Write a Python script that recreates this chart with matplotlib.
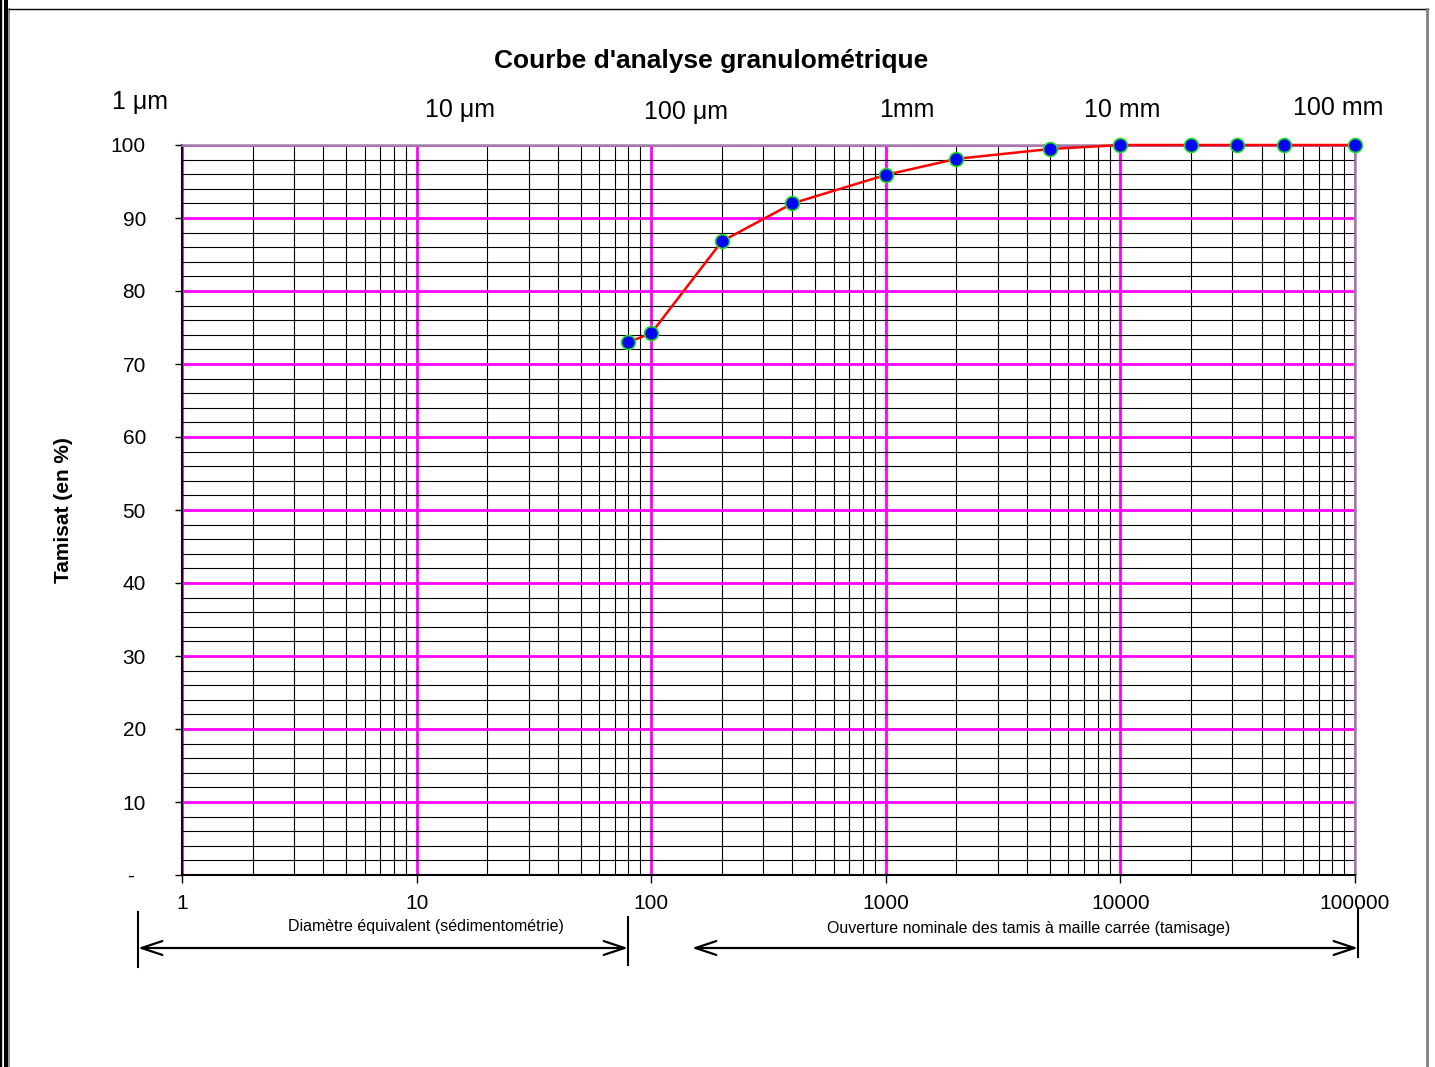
import matplotlib
matplotlib.use('Agg')
import matplotlib.pyplot as plt
from matplotlib.lines import Line2D
from matplotlib.patches import FancyArrowPatch
from matplotlib.ticker import LogLocator, MultipleLocator, NullFormatter

plt.rcParams['font.family'] = ['Liberation Sans', 'DejaVu Sans']

# donnees de la courbe granulometrique
tailles = [80, 100, 200, 400, 1000, 2000, 5000, 10000, 20000, 31500, 50000, 100000]
tamisat = [73.0, 74.2, 86.8, 92.0, 95.9, 98.1, 99.45, 100, 100, 100, 100, 100]

x_ticks = [1, 10, 100, 1000, 10000, 100000]
x_labels = ['1', '10', '100', '1000', '10000', '100000']
y_ticks = [0, 10, 20, 30, 40, 50, 60, 70, 80, 90, 100]
y_labels = ['-  ', '10', '20', '30', '40', '50', '60', '70', '80', '90', '100']

# echelle du haut (unites)
echelle_txt = ['1 μm', '10 μm', '100 μm', '1mm', '10 mm', '100 mm']
echelle_pos = [(140, 102), (460, 110), (686, 112), (907, 110), (1122, 110), (1338, 108)]

W, H = 1435, 1067
def fx(px):
    return px / W
def fy(py):
    return 1 - py / H

fig = plt.figure(figsize=(W / 100, H / 100), dpi=100)
ax = fig.add_axes([fx(182), fy(875), (1355 - 182) / W, (875 - 145) / H])

ax.set_xscale('log')
ax.set_xlim(1, 100000)
ax.set_ylim(0, 100)

ax.xaxis.set_minor_locator(LogLocator(base=10, subs=range(2, 10), numticks=20))
ax.xaxis.set_minor_formatter(NullFormatter())
ax.yaxis.set_minor_locator(MultipleLocator(2))
ax.set_xticks(x_ticks)
ax.set_xticklabels(x_labels)
ax.set_yticks(y_ticks)
ax.set_yticklabels(y_labels)

ax.set_axisbelow(True)
ax.grid(which='minor', color='black', lw=0.8)
ax.grid(which='major', color='#ff00ff', lw=2)

ax.tick_params(which='minor', length=0)
ax.tick_params(axis='y', which='major', length=5, width=1, pad=21, labelsize=15)
ax.tick_params(axis='x', which='major', length=6, width=1, pad=8, labelsize=15)

for s in ['left', 'bottom']:
    ax.spines[s].set_color('black')
    ax.spines[s].set_linewidth(1.5)
for s in ['top', 'right']:
    ax.spines[s].set_color('#a080a8')
    ax.spines[s].set_linewidth(1.8)

ax.plot(tailles, tamisat, color='red', lw=1.8, marker='o', markersize=10,
        markerfacecolor='blue', markeredgecolor='#22dd22', markeredgewidth=1.2,
        clip_on=False, zorder=5)

ax.set_ylabel('Tamisat (en %)', fontsize=15, fontweight='bold')
ax.yaxis.set_label_coords((73 - 182) / (1355 - 182), 0.5)

fig.text(fx(711), fy(61), "Courbe d'analyse granulométrique", ha='center', va='center',
         fontsize=19, fontweight='bold')

for t, (px, py) in zip(echelle_txt, echelle_pos):
    fig.text(fx(px), fy(py), t, ha='center', va='center', fontsize=18)

# fleches du bas
fig.text(fx(426), fy(927), 'Diamètre équivalent (sédimentométrie)', ha='center', va='center', fontsize=11.5)
fig.text(fx(1029), fy(928), 'Ouverture nominale des tamis à maille carrée (tamisage)',
         ha='center', va='center', fontsize=11.5)

for (a, b) in [(138, 628), (692, 1358)]:
    fig.add_artist(FancyArrowPatch((fx(a), fy(948)), (fx(b), fy(948)), transform=fig.transFigure,
                                   arrowstyle='<->,head_length=0.75,head_width=0.25',
                                   mutation_scale=20, lw=1.6, color='black',
                                   shrinkA=0, shrinkB=0))
for (px, y0, y1) in [(138, 912, 967), (628, 917, 965), (1358, 908, 957)]:
    fig.add_artist(Line2D([fx(px), fx(px)], [fy(y0), fy(y1)], transform=fig.transFigure,
                          color='black', lw=1.5))

# cadre de la page
fig.add_artist(Line2D([fx(1), fx(1)], [0, 1], transform=fig.transFigure, color='black', lw=1.7))
fig.add_artist(Line2D([fx(6), fx(6)], [0, 1], transform=fig.transFigure, color='black', lw=2.9))
fig.add_artist(Line2D([fx(9), fx(9)], [0, fy(9)], transform=fig.transFigure, color='gray', lw=1.2))
fig.add_artist(Line2D([fx(9), fx(1428)], [fy(9), fy(9)], transform=fig.transFigure, color='black', lw=1))
fig.add_artist(Line2D([fx(1427), fx(1427)], [0, fy(9)], transform=fig.transFigure, color='gray', lw=2))

fig.savefig('out.png', dpi=100)
